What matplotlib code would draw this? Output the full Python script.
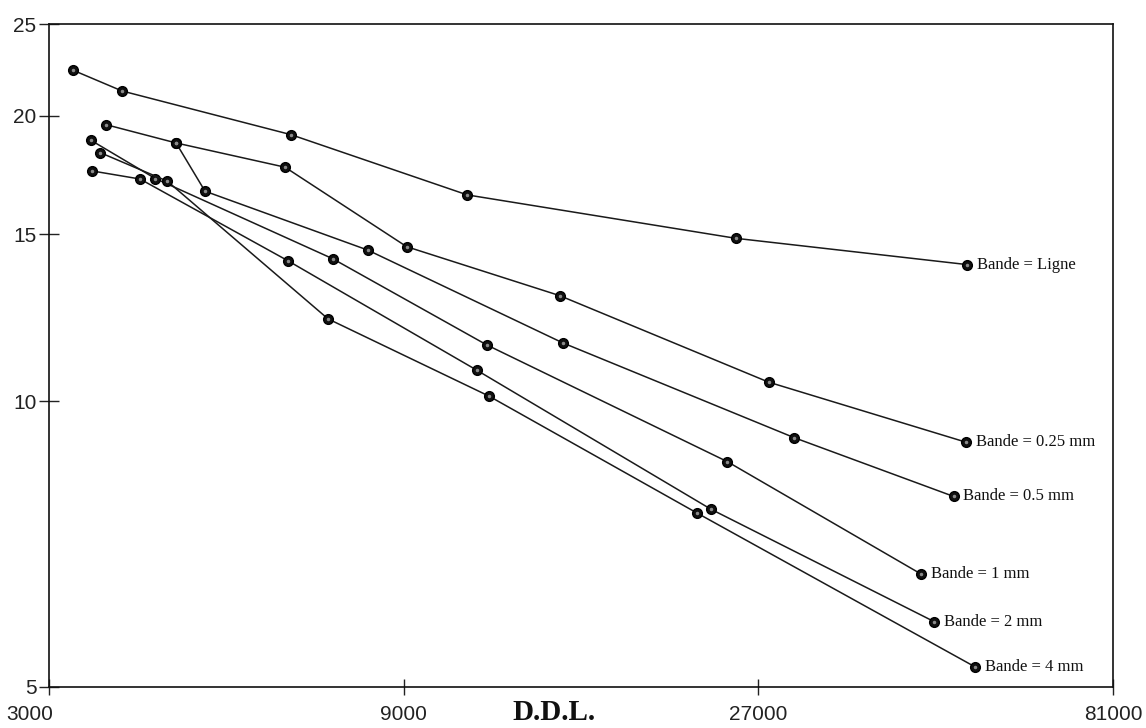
import numpy as np
import matplotlib
matplotlib.use("Agg")
import matplotlib.pyplot as plt
import matplotlib.transforms as mtransforms

# D.D.L. (x) and values (y), one pair of lists per band
ddl_ligne = [3235, 3761, 6349, 10962, 25172, 51590]
val_ligne = [22.34, 21.25, 19.11, 16.51, 14.86, 13.94]

ddl_025 = [3580, 4447, 6232, 9085, 14590, 27878, 51340]
val_025 = [19.58, 18.73, 17.66, 14.56, 12.93, 10.48, 9.06]

ddl_05 = [4447, 4864, 8054, 14727, 30158, 49461]
val_05 = [18.73, 16.66, 14.44, 11.53, 9.16, 7.94]

ddl_1 = [3413, 4170, 7225, 11645, 24533, 44659]
val_1 = [18.86, 17.18, 14.14, 11.47, 8.64, 6.58]

ddl_2 = [3428, 3977, 6290, 11285, 23302, 46540]
val_2 = [17.50, 17.16, 14.07, 10.79, 7.70, 5.86]

ddl_4 = [3513, 4328, 7120, 11725, 22313, 52843]
val_4 = [18.30, 17.07, 12.22, 10.13, 7.63, 5.25]

labels = ["Bande = Ligne", "Bande = 0.25 mm", "Bande = 0.5 mm",
          "Bande = 1 mm", "Bande = 2 mm", "Bande = 4 mm"]

x_ticks = [3000, 9000, 27000, 81000]
y_ticks = [5, 10, 15, 20, 25]

series = [(ddl_ligne, val_ligne), (ddl_025, val_025), (ddl_05, val_05),
          (ddl_1, val_1), (ddl_2, val_2), (ddl_4, val_4)]

fig = plt.figure(figsize=(11.46, 7.28), dpi=100)
ax = fig.add_axes([49/1146, 41/728, 1064/1146, 663/728])

for (xs, ys), lab in zip(series, labels):
    ax.plot(xs, ys, color='#1a1a1a', lw=1.1, marker='o', ms=7,
            mfc='#111111', mec='#000000', zorder=3)
    ax.plot(xs, ys, ls='none', marker='o', ms=1.5, color='#8a8a8a', zorder=4)
    ax.annotate(lab, (xs[-1], ys[-1]), xytext=(7, 0), textcoords='offset points',
                va='center', ha='left', fontsize=12, family='Liberation Serif',
                color='#111111')

ax.set_xscale('log')
ax.set_yscale('log')
ax.set_xlim(3000, 81000)
ax.set_ylim(5, 25)
ax.minorticks_off()
ax.set_xticks(x_ticks)
ax.set_xticklabels([str(v) for v in x_ticks])
ax.set_yticks(y_ticks)
ax.set_yticklabels([str(v) for v in y_ticks])
ax.tick_params(axis='both', which='minor', length=0)
ax.tick_params(axis='x', direction='inout', length=12, width=1, pad=7,
               labelsize=15, colors='#222222')
ax.tick_params(axis='y', direction='inout', length=14, width=1, pad=2,
               labelsize=15, colors='#222222')
for t in ax.get_xticklabels() + ax.get_yticklabels():
    t.set_family('Liberation Sans')

# first x label sits left of its tick in the original
first = ax.get_xticklabels()[0]
first.set_transform(first.get_transform() +
                    mtransforms.ScaledTranslation(-0.19, 0, fig.dpi_scale_trans))

for sp in ax.spines.values():
    sp.set_linewidth(1.2)
    sp.set_color('#111111')

ax.set_xlabel('D.D.L.', family='Liberation Serif', fontweight='bold',
              fontsize=21, color='#111111')
ax.xaxis.set_label_coords(0.475, -0.038)
ax.xaxis.label.set_va('center')

fig.savefig('out.png', dpi=100)
